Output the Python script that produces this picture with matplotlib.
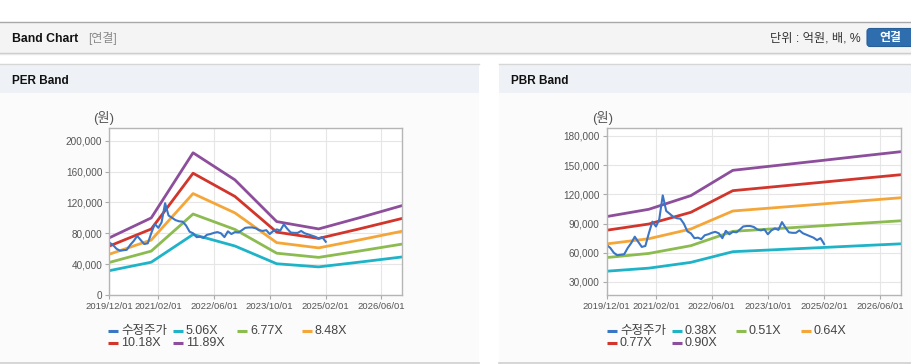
import matplotlib.pyplot as plt
import matplotlib.dates as mdates
from matplotlib.patches import Rectangle, FancyBboxPatch
import numpy as np
import pandas as pd

plt.rcParams['font.family'] = ['Liberation Sans', 'Noto Sans CJK KR']

# monthly adjusted close (수정주가), 2019/12 .. 2025/02
price = [68000, 65000, 60000, 57500, 58000, 58500, 65000, 70000, 76500, 71000,
         66000, 67000, 80000, 92000, 87000, 94000, 119000, 103000, 100000, 97000,
         95500, 95000, 90000, 82000, 80000, 75000, 75500, 74000, 78000, 79000,
         80500, 81500, 80000, 75000, 82500, 79000, 81500, 81000, 84000, 87000,
         87500, 87500, 86500, 84000, 83000, 84000, 79000, 83000, 85000, 83500,
         91500, 86000, 81000, 80500, 80500, 83000, 80000, 78500, 77000, 75500,
         73000, 75000, 69000]
price_dates = pd.date_range('2019-12-01', periods=len(price), freq='MS')

# yearly EPS / BPS knots the bands are built from
knot_dates = pd.to_datetime(['2019-12-01', '2020-12-01', '2021-12-01', '2022-12-01',
                             '2023-12-01', '2024-12-01', '2025-12-01', '2026-12-01'])
eps = np.array([6230, 8400, 15500, 12550, 8000, 7200, 8450, 9750])
bps = np.array([108000, 116300, 131900, 160800, 166100, 171400, 176800, 182100])

per_mults = [5.06, 6.77, 8.48, 10.18, 11.89]
pbr_mults = [0.38, 0.51, 0.64, 0.77, 0.90]
band_colors = ['#1fb3c8', '#8cbb50', '#f5a638', '#d1352b', '#8d4e9c']
price_color = '#3a75c6'

xtick_dates = pd.to_datetime(['2019-12-01', '2021-02-01', '2022-06-01',
                              '2023-10-01', '2025-02-01', '2026-06-01'])
xtick_labels = ['2019/12/01', '2021/02/01', '2022/06/01',
                '2023/10/01', '2025/02/01', '2026/06/01']

fig = plt.figure(figsize=(9.12, 3.64), dpi=100)

# page background drawn in pixel coordinates
bg = fig.add_axes([0, 0, 1, 1])
bg.set_xlim(0, 912)
bg.set_ylim(364, 0)
bg.axis('off')

bg.add_patch(Rectangle((0, 22.5), 912, 30, facecolor='#f4f4f4', edgecolor='none'))
bg.plot([0, 912], [22.3, 22.3], color='#a8a8a8', lw=1)
bg.plot([0, 912], [52.8, 52.8], color='#c8c8c8', lw=1)
bg.plot([0, 912], [53.8, 53.8], color='#e8e8e8', lw=1)
bg.text(12, 38.5, 'Band Chart', fontsize=8.8, fontweight='bold', color='#111111', va='center')
bg.text(88, 38.5, '[연결]', fontsize=8.6, color='#8a8a8a', va='center')
bg.text(861, 38.5, '단위 : 억원, 배, %', fontsize=8.8, color='#333333', va='center', ha='right')
bg.add_patch(FancyBboxPatch((867, 28.5), 50, 18, boxstyle='round,pad=0,rounding_size=3',
                            facecolor='#2f6eae', edgecolor='#285f98', lw=0.8))
bg.text(890, 38.5, '연결', fontsize=8.6, fontweight='bold', color='white', va='center', ha='center')

for x0, x1, title in [(0, 479, 'PER Band'), (499, 912, 'PBR Band')]:
    bg.add_patch(Rectangle((x0, 64), x1 - x0, 299, facecolor='#fbfbfb', edgecolor='none'))
    bg.add_patch(Rectangle((x0, 64), x1 - x0, 28.7, facecolor='#eef2f7', edgecolor='none'))
    bg.plot([x0, x1], [63.8, 63.8], color='#d6d6d6', lw=1)
    bg.plot([x0, x1], [363.2, 363.2], color='#cfcfcf', lw=1.2)
    bg.text(x0 + 12, 80.5, title, fontsize=8.5, fontweight='bold', color='#111111', va='center')


def band_chart(rect, base, mults, names, ylim, yticks, unit_x, legend_x):
    ax = fig.add_axes(rect)
    ax.set_facecolor('white')
    for m, c in zip(mults, band_colors):
        ax.plot(knot_dates, m * base, color=c, lw=2.0, solid_joinstyle='round')
    ax.plot(price_dates, price, color=price_color, lw=1.5)

    ax.set_xlim(pd.Timestamp('2019-12-01'), pd.Timestamp('2026-12-01'))
    ax.set_ylim(*ylim)
    ax.set_xticks(xtick_dates)
    ax.set_xticklabels(xtick_labels)
    ax.set_yticks(yticks)
    ax.set_yticklabels(['{:,}'.format(v) for v in yticks])
    ax.grid(True, color='#e6e6e6', lw=0.8)
    ax.set_axisbelow(True)
    for s in ax.spines.values():
        s.set_color('#b5b5b5')
        s.set_linewidth(1)
    ax.tick_params(axis='x', length=3, color='#aaaaaa', labelsize=6.8, labelcolor='#555555', pad=2)
    ax.tick_params(axis='y', length=3, color='#aaaaaa', labelsize=7.2, labelcolor='#555555', pad=2)

    bg.text(unit_x, 118, '(원)', fontsize=9.5, color='#555555', va='center')

    # legend: 4 items on the first row, 2 on the second
    labels = ['수정주가'] + names
    colors = [price_color] + band_colors
    rows = [330.7] * 4 + [343.3] * 2
    xs = legend_x + legend_x[:2]
    for lab, c, y, tx in zip(labels, colors, rows, xs):
        bg.plot([tx - 13, tx - 3], [y, y], color=c, lw=2.2, solid_capstyle='butt')
        bg.text(tx, y, lab, fontsize=9, color='#444444', va='center')
    return ax


band_chart([109.3 / 912, 69 / 364, 293 / 912, 166.7 / 364], eps, per_mults,
           ['5.06X', '6.77X', '8.48X', '10.18X', '11.89X'],
           (0, 216000), list(range(0, 200001, 40000)), 93, [121, 186, 250, 315])
band_chart([606.7 / 912, 69 / 364, 294.3 / 912, 166.7 / 364], bps, pbr_mults,
           ['0.38X', '0.51X', '0.64X', '0.77X', '0.90X'],
           (16600, 187900), list(range(30000, 180001, 30000)), 592, [620, 685, 749, 814])

fig.savefig('out.png', dpi=100)
